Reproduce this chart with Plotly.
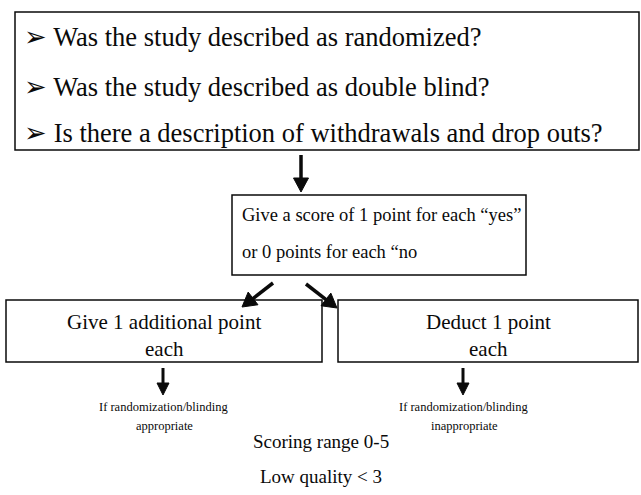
import math
import plotly.graph_objects as go

questions = [
    "Was the study described as randomized?",
    "Was the study described as double blind?",
    "Is there a description of withdrawals and drop outs?",
]
score_lines = ["Give a score of 1 point for each “yes”", "or 0 points for each “no"]
left_box_lines = ["Give 1 additional point", "each"]
right_box_lines = ["Deduct 1 point", "each"]
left_note = ["If randomization/blinding", "appropriate"]
right_note = ["If randomization/blinding", "inappropriate"]
footer = ["Scoring range 0-5", "Low quality < 3"]

FONT = "Liberation Serif, Times New Roman, serif"
INK = "#0a0a0a"
W, H = 641, 495

fig = go.Figure()
fig.add_trace(go.Scatter(x=[0, W], y=[0, H], mode="markers", marker=dict(opacity=0),
                         hoverinfo="skip", showlegend=False))

shapes = []
annotations = []


def box(x0, y0, x1, y1):
    shapes.append(dict(type="rect", x0=x0, y0=y0, x1=x1, y1=y1,
                       line=dict(color=INK, width=1.5), fillcolor="rgba(0,0,0,0)"))


def text(x, y, s, size, anchor="center"):
    annotations.append(dict(x=x, y=y, text=s, showarrow=False, xanchor=anchor, yanchor="middle",
                            font=dict(family=FONT, size=size, color=INK)))


def arrow(x0, y0, x1, y1, head=13, hw=7, lw=3.5):
    dx, dy = x1 - x0, y1 - y0
    L = math.hypot(dx, dy)
    ux, uy = dx / L, dy / L
    bx, by = x1 - ux * head, y1 - uy * head
    shapes.append(dict(type="line", x0=x0, y0=y0, x1=bx + ux, y1=by + uy,
                       line=dict(color=INK, width=lw)))
    px, py = -uy, ux
    path = f"M {x1},{y1} L {bx + px*hw},{by + py*hw} L {bx - px*hw},{by - py*hw} Z"
    shapes.append(dict(type="path", path=path, fillcolor=INK, line=dict(color=INK, width=1)))


# top box with questions
box(15, 12, 639, 150)
for yy, q in zip([37, 87, 133], questions):
    text(22, yy, "➢ " + q, 26.5, "left")

arrow(301, 155, 301, 192, head=14, hw=7.5)

# middle box
box(232, 195, 526, 275)
text(240, 215, score_lines[0], 18.5, "left")
text(240, 252, score_lines[1], 18.5, "left")

arrow(273, 283, 242, 307, head=14, hw=8)
arrow(306, 284, 337, 308, head=14, hw=8)

# bottom boxes
box(6, 300, 322, 362)
box(338, 300, 638, 362)
text(164, 322, left_box_lines[0], 21)
text(164, 349, left_box_lines[1], 21)
text(488, 322, right_box_lines[0], 21)
text(488, 349, right_box_lines[1], 21)

arrow(163, 368, 163, 395, head=12, hw=6, lw=3)
arrow(463, 368, 463, 395, head=12, hw=6, lw=3)

text(164, 407, left_note[0], 12.5)
text(164, 426, left_note[1], 12.5)
text(464, 407, right_note[0], 12.5)
text(464, 426, right_note[1], 12.5)

text(321, 441, footer[0], 19)
text(321, 476, footer[1], 19)

fig.update_layout(
    width=W, height=H, margin=dict(l=0, r=0, t=0, b=0),
    paper_bgcolor="white", plot_bgcolor="white",
    xaxis=dict(range=[0, W], visible=False, fixedrange=True),
    yaxis=dict(range=[H, 0], visible=False, fixedrange=True),
    shapes=shapes, annotations=annotations, showlegend=False,
)
fig.write_html(
    "out.html",
    config={"displayModeBar": False},
    post_script="document.body.style.margin='0';document.documentElement.style.overflow='hidden';document.body.style.overflow='hidden';",
)
